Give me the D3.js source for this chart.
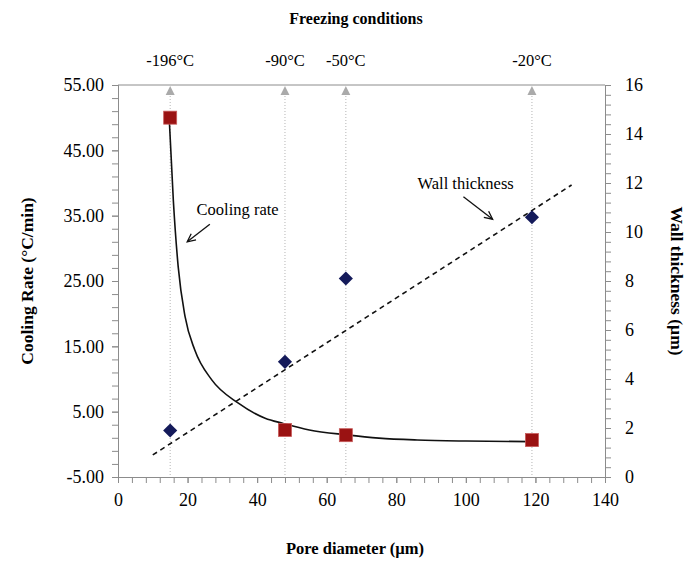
<!DOCTYPE html>
<html>
<head>
<meta charset="utf-8">
<script src="https://cdn.jsdelivr.net/npm/d3@7"></script>
<style>
  body { margin: 0; background: #fff; }
  svg text { font-family: "Liberation Serif", "Times New Roman", serif; fill: #000; }
</style>
</head>
<body>
<div id="chart"></div>
<script>
// Dades llegides del gràfic
const poreDiameter = [15, 48, 65.5, 119];
const coolingRate = [50, 2.2, 1.4, 0.65];
const wallThickness = [1.9, 4.7, 8.1, 10.6];
const freezingTemps = ["-196°C", "-90°C", "-50°C", "-20°C"];

// Corba de tendència de la velocitat de refredament (punts llegits)
const coolingFitX = [14.75, 15.9, 17.3, 19.3, 22.1, 26.9, 34.6, 42.3, 47.5, 55, 65.7, 75, 86, 100, 118.4];
const coolingFitY = [49.6, 37.4, 27.2, 19.5, 14.4, 9.9, 6.3, 4.0, 3.2, 2.2, 1.45, 0.95, 0.66, 0.5, 0.42];

// Recta de tendència del gruix de paret
const wallFitX = [10, 130.4];
const wallFitY = [0.9, 11.92];

const xTicks = [0, 20, 40, 60, 80, 100, 120, 140];
const yLeftTicks = [-5, 5, 15, 25, 35, 45, 55];
const yRightTicks = [0, 2, 4, 6, 8, 10, 12, 14, 16];

const width = 692, height = 564;
const margin = { top: 85, right: 87, bottom: 87, left: 118 };

const svg = d3.select("#chart").append("svg")
  .attr("width", width)
  .attr("height", height);

const x = d3.scaleLinear().domain([0, 140]).range([margin.left, width - margin.right]);
const yL = d3.scaleLinear().domain([-5, 55]).range([height - margin.bottom, margin.top]);
const yR = d3.scaleLinear().domain([0, 16]).range([height - margin.bottom, margin.top]);

const axisColor = "#8c8c8c";
const tickFont = 18;
const fmt2 = d => d3.format(".2f")(d).replace("−", "-");

// Línies verticals de les condicions de congelació
poreDiameter.forEach((d, i) => {
  svg.append("line")
    .attr("x1", x(d)).attr("x2", x(d))
    .attr("y1", margin.top + 8).attr("y2", height - margin.bottom)
    .attr("stroke", "#b5b5b5")
    .attr("stroke-width", 1)
    .attr("stroke-dasharray", "1,2");
  svg.append("path")
    .attr("d", `M${x(d)},${margin.top + 1} l-4.5,9 l9,0 Z`)
    .attr("fill", "#aaaaaa");
  svg.append("text")
    .attr("x", x(d))
    .attr("y", 66)
    .attr("text-anchor", "middle")
    .style("font-size", "16.5px")
    .text(freezingTemps[i]);
});

// Eixos
const gx = svg.append("g")
  .attr("transform", `translate(0,${height - margin.bottom})`)
  .call(d3.axisBottom(x).tickValues(d3.range(0, 141, 4)).tickSize(6).tickFormat(""));
gx.append("g").call(d3.axisBottom(x).tickValues(xTicks).tickSize(6).tickPadding(10).tickFormat(d3.format("d")));

const gyl = svg.append("g")
  .attr("transform", `translate(${margin.left},0)`)
  .call(d3.axisLeft(yL).tickValues(d3.range(-5, 55.1, 2)).tickSize(6).tickFormat(""));
gyl.append("g").call(d3.axisLeft(yL).tickValues(yLeftTicks).tickSize(6).tickPadding(8).tickFormat(fmt2));

const gyr = svg.append("g")
  .attr("transform", `translate(${width - margin.right},0)`)
  .call(d3.axisRight(yR).tickValues(d3.range(0, 16.01, 0.4)).tickSize(6).tickFormat(""));
gyr.append("g").call(d3.axisRight(yR).tickValues(yRightTicks).tickSize(6).tickPadding(14).tickFormat(d3.format("d")));

[gx, gyl, gyr].forEach(g => {
  g.selectAll(".domain").attr("stroke", axisColor);
  g.selectAll("line").attr("stroke", axisColor);
  g.selectAll("text").style("font-size", tickFont + "px").attr("fill", "#000");
});

// Vora superior
svg.append("line")
  .attr("x1", margin.left).attr("x2", width - margin.right)
  .attr("y1", margin.top).attr("y2", margin.top)
  .attr("stroke", axisColor);

// Recta discontínua del gruix de paret
svg.append("path")
  .datum(d3.zip(wallFitX, wallFitY))
  .attr("fill", "none")
  .attr("stroke", "#111")
  .attr("stroke-width", 1.6)
  .attr("stroke-dasharray", "5,4")
  .attr("d", d3.line().x(d => x(d[0])).y(d => yR(d[1])));

// Corba de la velocitat de refredament
svg.append("path")
  .datum(d3.zip(coolingFitX, coolingFitY))
  .attr("fill", "none")
  .attr("stroke", "#111")
  .attr("stroke-width", 1.6)
  .attr("d", d3.line().x(d => x(d[0])).y(d => yL(d[1])).curve(d3.curveMonotoneX));

// Rombes: gruix de paret
svg.append("g").selectAll("path")
  .data(d3.zip(poreDiameter, wallThickness))
  .join("path")
  .attr("transform", d => `translate(${x(d[0])},${yR(d[1])}) rotate(45)`)
  .attr("d", "M-5,-5h10v10h-10Z")
  .attr("fill", "#141a5a");

// Quadrats: velocitat de refredament
svg.append("g").selectAll("rect")
  .data(d3.zip(poreDiameter, coolingRate))
  .join("rect")
  .attr("x", d => x(d[0]) - 6.5)
  .attr("y", d => yL(d[1]) - 6.5)
  .attr("width", 13)
  .attr("height", 13)
  .attr("fill", "#9a1212")
  .attr("stroke", "#c75a5a")
  .attr("stroke-width", 0.8);

// Anotacions
function arrow(x1, y1, x2, y2) {
  const ang = Math.atan2(y2 - y1, x2 - x1);
  const len = 9, spread = 0.45;
  svg.append("line")
    .attr("x1", x1).attr("y1", y1).attr("x2", x2).attr("y2", y2)
    .attr("stroke", "#111").attr("stroke-width", 1.3);
  svg.append("path")
    .attr("d", `M${x2 - len * Math.cos(ang - spread)},${y2 - len * Math.sin(ang - spread)} L${x2},${y2} L${x2 - len * Math.cos(ang + spread)},${y2 - len * Math.sin(ang + spread)}`)
    .attr("fill", "none").attr("stroke", "#111").attr("stroke-width", 1.3);
}

svg.append("text")
  .attr("x", x(22.6)).attr("y", yL(35.1))
  .style("font-size", "16.5px")
  .text("Cooling rate");
arrow(x(26.4), yL(33.7), x(19.9), yL(31.0));

svg.append("text")
  .attr("x", x(86.1)).attr("y", yR(11.74))
  .style("font-size", "16.5px")
  .text("Wall thickness");
arrow(x(99.3), yR(11.44), x(107.7), yR(10.52));

// Títols
svg.append("text")
  .attr("x", 356).attr("y", 24)
  .attr("text-anchor", "middle")
  .style("font-size", "16px").style("font-weight", "bold")
  .text("Freezing conditions");

svg.append("text")
  .attr("x", 355).attr("y", 554)
  .attr("text-anchor", "middle")
  .style("font-size", "16.5px").style("font-weight", "bold")
  .text("Pore diameter (µm)");

svg.append("text")
  .attr("transform", `translate(33,${(margin.top + height - margin.bottom) / 2}) rotate(-90)`)
  .attr("text-anchor", "middle")
  .style("font-size", "17.5px").style("font-weight", "bold")
  .text("Cooling Rate (°C/min)");

svg.append("text")
  .attr("transform", `translate(671,${(margin.top + height - margin.bottom) / 2}) rotate(90)`)
  .attr("text-anchor", "middle")
  .style("font-size", "17.5px").style("font-weight", "bold")
  .text("Wall thickness (µm)");
</script>
</body>
</html>
